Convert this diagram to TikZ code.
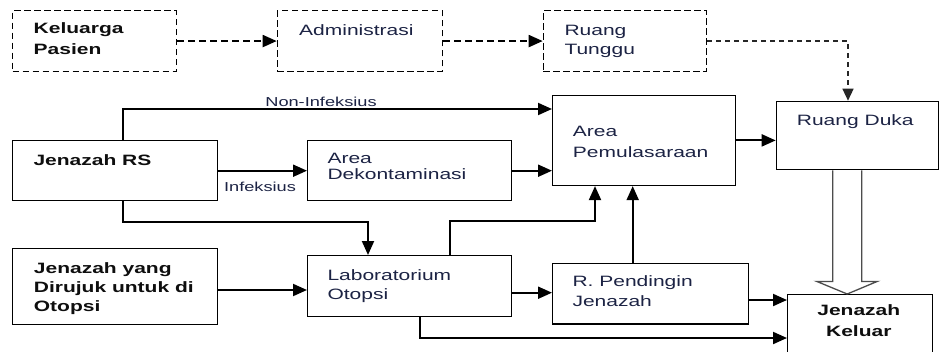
\documentclass[tikz,border=0pt]{standalone}
\usepackage{fontspec}
\setmainfont{Liberation Sans}[FakeStretch=1.4]
\usetikzlibrary{arrows.meta,calc}
\definecolor{ink}{HTML}{1C2344}
\definecolor{bink}{HTML}{0E0E0E}
% left- or centre-aligned block of lines, baseline at the first line
\newcommand\txtlines[2][l]{\begin{tabular}[t]{@{}#1@{}}#2\end{tabular}}
\tikzset{
  box/.style={draw=black, line width=1.4pt, rectangle, inner sep=0pt, anchor=north west},
  dbox/.style={box, dash pattern=on 6.5pt off 3.5pt},
  txt/.style={inner sep=0pt, anchor=base west, text=ink, font=\fontsize{15}{19}\selectfont},
  btxt/.style={txt, text=bink, font=\fontsize{15}{19}\selectfont\bfseries},
  edgelbl/.style={inner sep=0pt, anchor=base, text=ink, font=\fontsize{13}{16}\selectfont},
  flow/.style={draw=black, line width=2pt, -{Triangle[length=14pt,width=12pt]}},
  dflow/.style={flow, dash pattern=on 7pt off 4pt},
  tflow/.style={draw=black!85, line width=1.3pt, dash pattern=on 5pt off 4pt, -{Triangle[length=12pt,width=11pt]}},
  hollow/.style={draw=black!70, line width=1.3pt, line join=miter}
}
\begin{document}
\begin{tikzpicture}[x=1pt, y=-1pt]
\useasboundingbox (0,0) rectangle (939,351);
\clip (0,0) rectangle (939,351);
\fill[white] (0,0) rectangle (939,351);

% visitors' route (dashed boxes)
\node[dbox, minimum width=163.7pt, minimum height=60.7pt] (kp) at (12,10) {};
\node[dbox, minimum width=165pt, minimum height=60.7pt] (adm) at (276.7,10) {};
\node[dbox, minimum width=163.3pt, minimum height=60.7pt] (rt) at (542.7,10) {};

% rooms on the body route
\node[box, minimum width=205pt, minimum height=60pt] (jrs) at (12,140) {};
\node[box, minimum width=203.7pt, minimum height=60pt] (dek) at (307,140) {};
\node[box, minimum width=183pt, minimum height=90pt] (ap) at (552,94.7) {};
\node[box, minimum width=162.3pt, minimum height=68.3pt] (rd) at (775.7,100.7) {};
\node[box, minimum width=205pt, minimum height=76pt] (jr) at (12,248) {};
\node[box, minimum width=203.7pt, minimum height=60.7pt] (lab) at (307,255) {};
\node[box, minimum width=195.7pt, minimum height=60.6pt] (rp) at (552,262.7) {};
\node[box, minimum width=144.7pt, minimum height=80pt] (jk) at (787,294) {};

% box texts
\node[btxt, font=\fontsize{15}{21}\selectfont\bfseries] (kpt) at (33.5,33.3) {\txtlines{Keluarga\\Pasien}};
\node[txt] (admt) at (299,35) {Administrasi};
\node[txt, font=\fontsize{15}{19.3}\selectfont] (rtt) at (564.3,35) {\txtlines{Ruang\\Tunggu}};
\node[btxt] (jrst) at (33.3,165) {Jenazah RS};
\node[txt, font=\fontsize{15}{16}\selectfont] (dekt) at (327.3,163.3) {\txtlines{Area\\Dekontaminasi}};
\node[txt, font=\fontsize{15}{21}\selectfont] (apt) at (572.7,136.7) {\txtlines{Area\\Pemulasaraan}};
\node[txt] (rdt) at (796.7,125) {Ruang Duka};
\node[btxt, font=\fontsize{15}{19.2}\selectfont\bfseries] (jrt) at (33.7,273.3) {\txtlines{Jenazah yang\\Dirujuk untuk di\\Otopsi}};
\node[txt] (labt) at (327.3,280) {\txtlines{Laboratorium\\Otopsi}};
\node[txt, font=\fontsize{15}{20}\selectfont] (rpt) at (572.3,286.7) {\txtlines{R. Pendingin\\Jenazah}};
\node[btxt, anchor=base, font=\fontsize{15}{21}\selectfont\bfseries] (jkt) at (858.8,315) {\txtlines[c]{Jenazah\\Keluar}};

% bend points
\coordinate (ni) at (123,109);
\coordinate (jb) at (368,221.7);
\coordinate (lb) at (450,220.5);
\coordinate (lc) at (595,220.5);
\coordinate (pc) at (632.7,250);
\coordinate (dk) at (848,0);
\coordinate (r2) at (0,290);
\coordinate (r3) at (0,292.7);
\coordinate (r4) at (0,300);
\coordinate (lx) at (420,338);
\coordinate (ha) at (847.2,0);

% dashed visitor connectors
\draw[dflow] (kp.east) -- (adm.west);
\draw[dflow] (adm.east) -- (rt.west);
\draw[tflow] (rt.east) -| (rd.north -| dk);

% body route connectors
\draw[flow] (jrs.north -| ni) |- (ap.west |- ni);
\node[edgelbl] (nilbl) at (321,106) {Non-Infeksius};
\draw[flow] (jrs.east) -- (dek.west);
\node[edgelbl] (inflbl) at (260,191) {Infeksius};
\draw[flow] (dek.east) -- (dek.east -| ap.west);
\draw[flow] (ap.east) -- (ap.east -| rd.west);
\draw[flow] (jrs.south -| ni) |- (jb) -- (jb |- lab.north);
\draw[flow] (lab.north -| lb) |- (lc) -- (lc |- ap.south);
\draw[flow] (rp.north -| pc) -- (pc |- ap.south);
\draw[flow] (jr.east |- r2) -- (lab.west |- r2);
\draw[flow] (lab.east |- r3) -- (rp.west |- r3);
\draw[flow] (rp.east |- r4) -- (jk.west |- r4);
\draw[flow] (lab.south -| lx) |- (jk.west |- lx);

% hollow block arrow from Ruang Duka to Jenazah Keluar
\draw[hollow] ($(rd.south -| ha)+(-14.5,0)$) -- ($(rd.south -| ha)+(-14.5,111)$)
  -- ($(rd.south -| ha)+(-30.5,111)$) -- (jk.north -| ha)
  -- ($(rd.south -| ha)+(30.1,111)$) -- ($(rd.south -| ha)+(14.5,111)$)
  -- ($(rd.south -| ha)+(14.5,0)$);
\end{tikzpicture}
\end{document}
